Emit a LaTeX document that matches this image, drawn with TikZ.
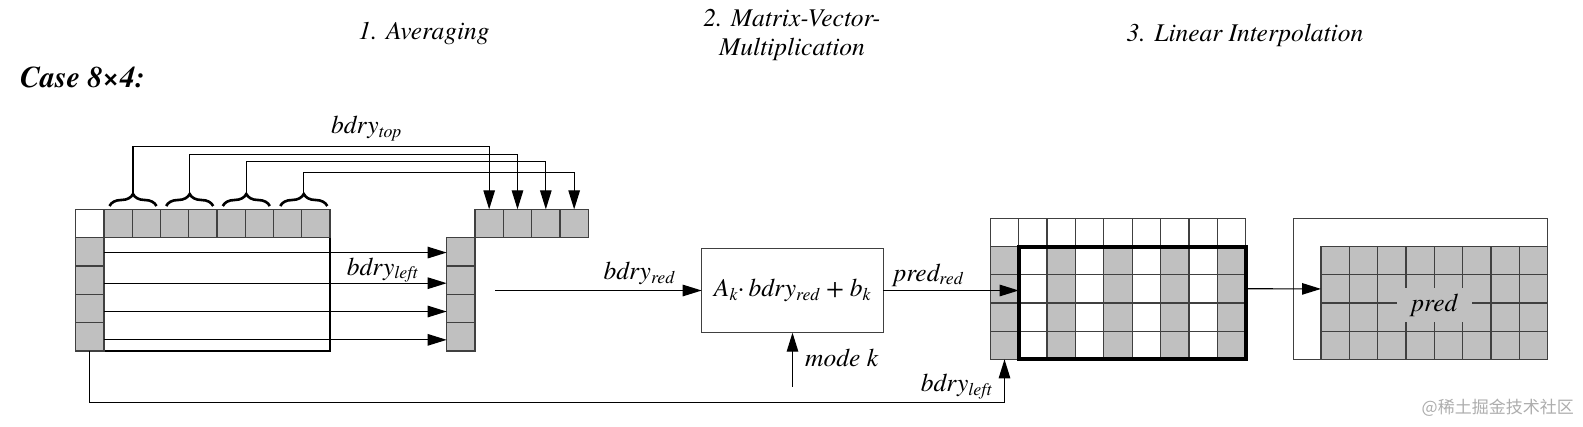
\documentclass[tikz,border=0pt]{standalone}
\usepackage{fontspec}
\setmainfont{texgyretermes}[Extension=.otf, UprightFont=*-regular, ItalicFont=*-italic, BoldFont=*-bold, BoldItalicFont=*-bolditalic]
\newfontfamily\cjkfont{Noto Sans CJK SC}
\usetikzlibrary{arrows.meta,decorations.pathreplacing,calc}
\definecolor{cellgray}{HTML}{C0C0C0}
\definecolor{edgegray}{HTML}{404040}
\tikzset{
  cellbase/.style={draw=edgegray, line width=1.2pt, inner sep=0pt, outer sep=0pt, minimum width=28.3pt, minimum height=28.3pt},
  gcell/.style={cellbase, fill=cellgray},
  wcell/.style={cellbase, fill=white},
  arr/.style={draw=black, line width=1.2pt, -{Triangle[length=19pt,width=11.5pt]}},
  wire/.style={draw=black, line width=1.2pt},
  lbl/.style={font=\fontsize{25.5}{30}\selectfont\itshape, inner sep=0pt},
  brc/.style={draw=black, decorate, decoration={brace, amplitude=12pt}, line width=2.6pt},
  frame/.style={draw=edgegray, line width=1.2pt, inner sep=0pt, outer sep=0pt},
}
\begin{document}
\begin{tikzpicture}[x=1pt,y=-1pt]
\useasboundingbox (0,0) rectangle (1583,426);
% titles
\node[lbl, anchor=base] (t1) at (424,39.5) {1. Averaging};
\node[lbl, anchor=base] (t2a) at (792,26.5) {2. Matrix-Vector-};
\node[lbl, anchor=base] (t2b) at (792,55.5) {Multiplication};
\node[lbl, anchor=base] (t3) at (1245,41) {3. Linear Interpolation};
\node[font=\fontsize{30}{34}\selectfont\bfseries\itshape, inner sep=0pt, anchor=base west] (case) at (20,87) {Case 8×4:};
% left block
\node[frame, draw=black, minimum width=226pt, minimum height=113.3pt] (W) at (217,294.35) {};
\node[wcell] (LT) at (89.85,223.35) {};
\foreach \i in {1,...,8} \node[gcell, minimum width=28.25pt] (T\i) at ({104+28.25*(\i-0.5)},223.35) {};
\foreach \i in {1,...,4} \node[gcell, minimum height=28.325pt] (L\i) at (89.85,{237.7+28.325*(\i-0.5)}) {};
% braces
\draw[brc] (109.5,206) -- (156.5,206);
\draw[brc] (166.2,206) -- (213.2,206);
\draw[brc] (222.8,206) -- (269.8,206);
\draw[brc] (280.3,206) -- (327.3,206);
\coordinate (b1) at (133,194);
\coordinate (b2) at (189.7,194);
\coordinate (b3) at (246.3,194);
\coordinate (b4) at (303.8,194);
\coordinate (h1) at (0,146.4);
\coordinate (h2) at (0,154.8);
\coordinate (h3) at (0,161.3);
\coordinate (h4) at (0,172.4);
% middle reduced boundary
\foreach \i in {1,...,4} \node[gcell, minimum height=28.325pt] (M\i) at (460.85,{237.7+28.325*(\i-0.5)}) {};
\foreach \i in {1,...,4} \node[gcell, minimum width=28.33pt] (S\i) at ({475+28.33*(\i-0.5)},223.5) {};
\foreach \i in {1,...,4} \draw[arr] (b\i) -- (b\i |- h\i) -| (S\i.north);
\draw[arr] ([yshift=-0.7pt]L1.east) -- ([yshift=-0.7pt]M1.west);
\draw[arr] ([yshift=-3pt]L2.east) -- ([yshift=-3pt]M2.west);
\draw[arr] ([yshift=-3pt]L3.east) -- ([yshift=-3pt]M3.west);
\draw[arr] ([yshift=-3pt]L4.east) -- ([yshift=-3pt]M4.west);
\node[lbl, anchor=base west] (lbt) at (331,133.5) {bdry\textsubscript{top}};
\node[lbl, anchor=base west] (lbl1) at (346.7,275) {bdry\textsubscript{left}};
% matrix vector box
\node[frame, minimum width=181.6pt, minimum height=84.4pt, font=\fontsize{25.5}{30}\selectfont\itshape] (box) at (792.5,290.5) {A\textsubscript{k}·\,bdry\textsubscript{red} + b\textsubscript{k}};
\coordinate (in) at (495,290.5);
\draw[arr] (in) -- (box.west);
\node[lbl, anchor=base west] (lbr) at (603.3,279.5) {bdry\textsubscript{red}};
\coordinate (mk) at (792.5,386.7);
\draw[arr] (mk) -- (box.south);
\node[lbl, anchor=base west] (lmk) at (805,366.5) {mode k};
% right grid
\foreach \c in {0,...,8}{
  \foreach \r in {0,...,4}{
    \pgfmathtruncatemacro\isg{and(\r>0, mod(\c,2)==0)}
    \ifnum\isg=1 \def\fc{cellgray}\else\def\fc{white}\fi
    \node[cellbase, fill=\fc, minimum width=28.375pt, minimum height=28.2pt] (R-\c-\r) at ({990.3+28.375*(\c+0.5)},{218.3+28.2*(\r+0.5)}) {};
  }
}
\draw[line width=4pt, black] (R-1-1.north west) rectangle (R-8-4.south east);
\draw[arr] (box.east) -- (box.east -| R-0-2.east);
\node[lbl, anchor=base west] (lpr) at (893.3,281) {pred\textsubscript{red}};
% feedback of left boundary
\draw[arr] (L4.south) -- ++(0pt,-51.5pt) -| (R-0-4.south);
\node[lbl, anchor=base west] (lbl2) at (920.7,391.5) {bdry\textsubscript{left}};
% final prediction
\node[frame, minimum width=254.4pt, minimum height=141pt] (F) at (1420.5,288.8) {};
\foreach \c in {1,...,8}{
  \foreach \r in {1,...,4}{
    \node[gcell, minimum width=28.33pt, minimum height=28.15pt] (P-\c-\r) at ({1321+28.33*(\c-0.5)},{246.7+28.15*(\r-0.5)}) {};
  }
}
\node[lbl, fill=cellgray, minimum width=75pt, minimum height=34pt] (pred) at (1434.3,305) {pred};
\draw[arr] (R-8-2.east) -- (P-1-2.west);
% watermark
\node[font=\cjkfont\fontsize{17}{20}\selectfont, text=black!32, anchor=east, inner sep=0pt] (wm) at (1574,408) {@稀土掘金技术社区};
\end{tikzpicture}
\end{document}
